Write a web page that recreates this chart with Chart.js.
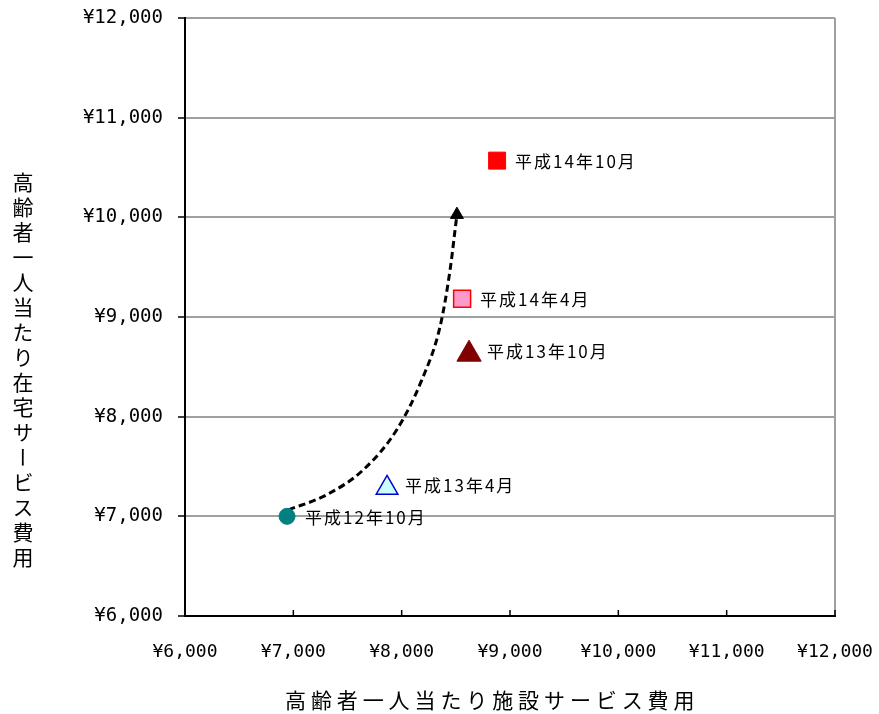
<!DOCTYPE html>
<html>
<head>
<meta charset="utf-8">
<script src="https://cdn.jsdelivr.net/npm/chart.js@4"></script>
<style>
  body { margin: 0; background: #fff; }
  #wrap { position: relative; width: 879px; height: 714px; }
  .ttl { position: absolute; font-family: "Noto Sans CJK JP", sans-serif; font-size: 21px; line-height: 1; color: #000; white-space: nowrap; }
  #ytitle { left: 12px; top: 172px; writing-mode: vertical-rl; letter-spacing: 4px; }
  #xtitle { left: 285px; top: 689px; letter-spacing: 4.9px; }
</style>
</head>
<body>
<div id="wrap">
  <canvas id="c" width="879" height="714"></canvas>
  <div class="ttl" id="ytitle">高齢者一人当たり在宅サービス費用</div>
  <div class="ttl" id="xtitle">高齢者一人当たり施設サービス費用</div>
</div>
<script>
// points: facility cost (x) vs home-care cost (y), yen per elderly person
const pointNames   = ["平成12年10月", "平成13年4月", "平成13年10月", "平成14年4月", "平成14年10月"];
const facilityCost = [6942, 7865, 8622, 8558, 8881];
const homeCost     = [7000, 7285, 8627, 9184, 10569];

// dashed trend arrow
const trendX = [6954, 7308, 7646, 7955, 8186, 8355, 8447, 8493, 8510];
const trendY = [7065, 7216, 7467, 7869, 8369, 8906, 9473, 9875, 10027];

const axisMin = 6000, axisMax = 12000, axisStep = 1000;

const markers = [
  { style: "circle",   r: 8,    bg: "#008080", bd: "#008080", bw: 1 },
  { style: "triangle", r: 12.5, bg: "#ccffff", bd: "#0000cc", bw: 1.5 },
  { style: "triangle", r: 14,   bg: "#800000", bd: "#800000", bw: 1 },
  { style: "rect",     r: 12,   bg: "#ff99cc", bd: "#ff0000", bw: 1.5 },
  { style: "rect",     r: 12,   bg: "#ff0000", bd: "#ff0000", bw: 1 }
];

const gridGray = "#a0a0a0";
const yen = v => "¥" + Number(v).toLocaleString("en-US");

const datasets = pointNames.map((name, i) => ({
  type: "scatter",
  label: name,
  data: [{ x: facilityCost[i], y: homeCost[i] }],
  pointStyle: markers[i].style,
  pointRadius: markers[i].r,
  backgroundColor: markers[i].bg,
  borderColor: markers[i].bd,
  borderWidth: markers[i].bw
}));

datasets.push({
  type: "line",
  label: "trend",
  data: trendX.map((x, i) => ({ x: x, y: trendY[i] })),
  borderColor: "#000",
  backgroundColor: "#000",
  borderWidth: 3,
  borderDash: [7, 4],
  cubicInterpolationMode: "monotone",
  fill: false,
  pointStyle: "triangle",
  pointRadius: trendX.map((x, i) => i === trendX.length - 1 ? 7.5 : 0),
  pointBorderWidth: 1
});

// point labels to the right of each marker
const pointLabels = {
  id: "pointLabels",
  afterDatasetsDraw(chart) {
    const ctx = chart.ctx;
    ctx.save();
    ctx.font = "17px 'Noto Sans CJK JP', sans-serif";
    ctx.fillStyle = "#000";
    ctx.textBaseline = "middle";
    ctx.textAlign = "left";
    ctx.letterSpacing = "2px";
    pointNames.forEach((name, i) => {
      const el = chart.getDatasetMeta(i).data[0];
      const m = markers[i];
      // triangles are drawn around their centroid, so shift to the box middle
      const dy = m.style === "triangle" ? -m.r / 4 : 0;
      ctx.fillText(name, el.x + 18, el.y + dy + 1);
    });
    ctx.restore();
  }
};

// x ticks point inward from the axis
const innerTicks = {
  id: "innerTicks",
  afterDraw(chart) {
    const xs = chart.scales.x;
    const ctx = chart.ctx;
    ctx.save();
    ctx.strokeStyle = "#000";
    ctx.lineWidth = 1.5;
    xs.ticks.forEach(t => {
      const px = xs.getPixelForValue(t.value);
      ctx.beginPath();
      ctx.moveTo(px, xs.top);
      ctx.lineTo(px, xs.top - 6);
      ctx.stroke();
    });
    ctx.restore();
  }
};

new Chart(document.getElementById("c"), {
  type: "scatter",
  data: { datasets: datasets },
  options: {
    responsive: false,
    animation: false,
    layout: { padding: { left: 0, top: 18, right: 44, bottom: 0 } },
    plugins: { legend: { display: false }, tooltip: { enabled: false } },
    scales: {
      x: {
        type: "linear",
        min: axisMin, max: axisMax,
        afterFit: s => { s.height = 98; s.paddingLeft = 0; s.paddingRight = 0; },
        ticks: {
          stepSize: axisStep,
          callback: yen,
          color: "#000",
          padding: 26,
          maxRotation: 0,
          font: { family: "'DejaVu Sans Mono', monospace", size: 18 }
        },
        grid: {
          drawTicks: false,
          lineWidth: 2,
          color: c => (c.tick && c.tick.value === axisMax) ? gridGray : "rgba(0,0,0,0)"
        },
        border: { color: "#000", width: 2 }
      },
      y: {
        type: "linear",
        min: axisMin, max: axisMax,
        afterFit: s => { s.width = 185; s.paddingTop = 0; s.paddingBottom = 0; },
        ticks: {
          stepSize: axisStep,
          callback: yen,
          color: "#000",
          padding: 15,
          font: { family: "'DejaVu Sans Mono', monospace", size: 19 }
        },
        grid: {
          lineWidth: 2,
          tickLength: 7,
          tickColor: "#000",
          tickWidth: 1.5,
          color: c => (c.tick && c.tick.value === axisMin) ? "rgba(0,0,0,0)" : gridGray
        },
        border: { color: "#000", width: 2 }
      }
    }
  },
  plugins: [pointLabels, innerTicks]
});
</script>
</body>
</html>
